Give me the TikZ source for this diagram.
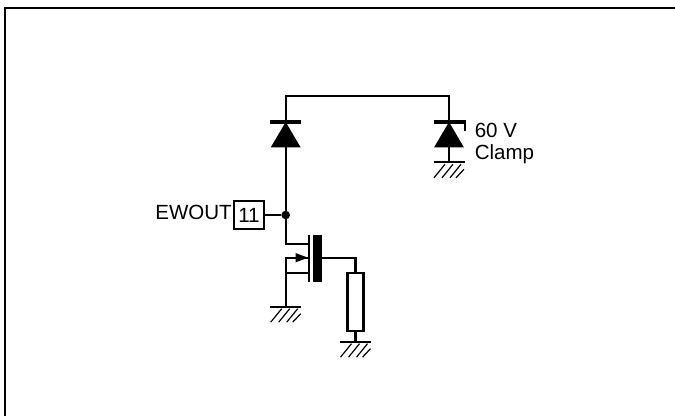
\documentclass[tikz,border=0pt]{standalone}
\usepackage{fontspec}
\setmainfont{Liberation Sans}

\begin{document}
\begin{tikzpicture}[x=0.75pt, y=-0.75pt]%
	\tikzstyle{wire}=[draw=black, line width=1.7pt];
	\tikzstyle{kat}=[draw=black, line width=3pt];
	\tikzstyle{hatch}=[draw=black, line width=0.9pt];
	\tikzstyle{label}=[inner sep=0pt, font=\fontsize{15.4pt}{18pt}\selectfont];
	\tikzstyle{pad}=[rectangle, draw=black, line width=1.7pt, minimum width=22.5pt, minimum height=21.5pt, inner sep=0pt, font=\fontsize{15.4pt}{18pt}\selectfont];
	\tikzstyle{dot}=[circle, fill=black, minimum size=6.5pt, inner sep=0pt];
	\tikzstyle{load}=[rectangle, draw=black, line width=1.7pt, minimum width=12pt, minimum height=43pt, inner sep=0pt];
	\useasboundingbox (0, 0) rectangle (675, 416);
	% page edge
	\draw[wire] (675, 7.8) -- (5, 7.8) -- (5, 416);
	% named points
	\coordinate (cornerl) at (285.7, 95.7);
	\coordinate (cornerr) at (449, 95.7);
	\coordinate (drain) at (308, 244);
	\coordinate (drainc) at (285.7, 244);
	\coordinate (source) at (308, 257.7);
	\coordinate (sourcec) at (285.7, 257.7);
	\coordinate (bulk) at (308, 273.3);
	\coordinate (bulkc) at (285.7, 273.3);
	\coordinate (gate) at (321.7, 257.7);
	\coordinate (gatec) at (355.5, 257.7);
	\coordinate (gndl) at (285.7, 306.7);
	\coordinate (gndm) at (355.5, 341.7);
	\coordinate (gndr) at (449, 162.3);
	\coordinate (katll) at (270, 121.7);
	\coordinate (katlr) at (301, 121.7);
	\coordinate (katrl) at (434.3, 121.7);
	\coordinate (katrr) at (465.7, 121.7);
	\coordinate (tick) at (464.8, 130.7);
	\coordinate (tickc) at (464.8, 121.7);
	\node[pad] (pin) at (249, 215) {\raisebox{-1.5pt}{11}};
	\node[dot] (node) at (285.7, 215) {};
	\node[label, anchor=base east] (ewout) at (232, 220) {EWOUT};
	\node[load] (res) at (355.5, 302) {};
	\node[label, anchor=base west] (volt) at (474.5, 138) {60 V};
	\node[label, anchor=base west] (clamp) at (474.5, 160) {Clamp};
	% wires
	\draw[wire] (gndr) -- (cornerr) -- (cornerl) -- (drainc) -- (drain);
	\draw[wire] (pin) -- (node);
	\draw[wire] (gndl) -- (sourcec) -- (source);
	\draw[wire] (bulkc) -- (bulk);
	\draw[wire] (gate) -- (gatec) -- (res.north);
	\draw[wire] (res.south) -- (gndm);
	\draw[kat] (katrl) -- (katrr);
	\draw[wire] (tickc) -- (tick);
	\draw[kat] (katll) -- (katlr);
	% diodes
	\foreach \dx in {285.7, 449} {
		\fill[black] (\dx, 122) -- (\dx + 15, 147.5) -- (\dx - 15, 147.5) -- cycle;
	}
	% mosfet
	\draw[wire] (309, 235) -- (309, 281.7);
	\fill[black] (313.3, 235) rectangle (321.7, 281.7);
	\fill[black] (308, 257.7) -- (295.5, 253) -- (295.5, 262.4) -- cycle;
	% grounds
	\foreach \gx/\gy in {285.7/306.7, 355.5/341.7, 449/162.3} {
		\draw[wire] (\gx - 15.5, \gy) -- (\gx + 15.5, \gy);
		\foreach \hx in {-4, 4, 12} {
			\draw[hatch] (\gx + \hx, \gy + 2) -- (\gx + \hx - 11, \gy + 15.5);
		}
		\draw[hatch] (\gx + 15, \gy + 7) -- (\gx + 7, \gy + 15.5);
	}
\end{tikzpicture}
\end{document}
